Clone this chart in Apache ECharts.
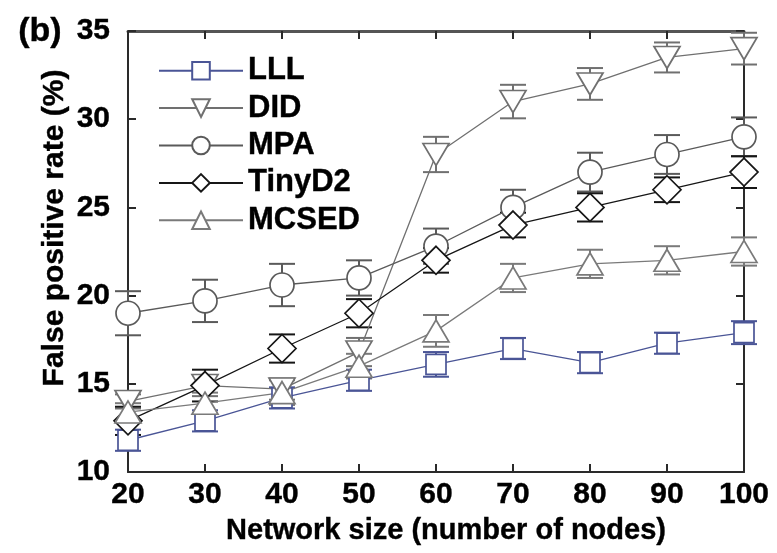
<!DOCTYPE html>
<html>
<head>
<meta charset="utf-8">
<script src="https://cdn.jsdelivr.net/npm/echarts@6/dist/echarts.min.js"></script>
<style>
html,body{margin:0;padding:0;background:#fff;}
#chart{width:777px;height:553px;}
</style>
</head>
<body>
<div id="chart"></div>
<script>
var networkSizes = [20, 30, 40, 50, 60, 70, 80, 90, 100];
var xTicks = [20, 30, 40, 50, 60, 70, 80, 90, 100];
var yTicks = [10, 15, 20, 25, 30, 35];

var lllValues    = [11.8, 12.9, 14.2, 15.2, 16.1, 17.0, 16.2, 17.3, 17.9];
var lllErr       = [0.6, 0.6, 0.6, 0.6, 0.7, 0.6, 0.6, 0.6, 0.65];
var didValues    = [14.0, 14.9, 14.7, 16.8, 28.0, 31.0, 32.0, 33.5, 34.0];
var didErr       = [0.4, 0.6, 0.6, 0.8, 1.0, 0.95, 0.9, 0.85, 0.9];
var mpaValues    = [19.0, 19.7, 20.6, 21.0, 22.8, 25.0, 27.0, 28.0, 29.0];
var mpaErr       = [1.25, 1.2, 1.2, 1.0, 1.0, 1.0, 1.1, 1.1, 1.1];
var tinyValues   = [12.9, 14.9, 17.0, 19.0, 22.0, 24.0, 25.0, 26.0, 27.0];
var tinyErr      = [0.8, 0.9, 0.8, 0.8, 0.7, 0.7, 0.8, 0.7, 0.9];
var mcsedValues  = [13.4, 13.9, 14.5, 16.0, 18.0, 21.0, 21.8, 22.0, 22.5];
var mcsedErr     = [0.5, 0.6, 0.7, 0.7, 0.9, 0.8, 0.8, 0.8, 0.8];

var FONT = '"Liberation Sans", Arial, Helvetica, sans-serif';

var seriesDefs = [
  {name: 'LLL', vals: lllValues, err: lllErr, color: '#4a5596', symbol: 'rect', size: 20, rotate: 0},
  {name: 'DID', vals: didValues, err: didErr, color: '#707070', symbol: 'triangle', size: [26, 22], rotate: 180},
  {name: 'MPA', vals: mpaValues, err: mpaErr, color: '#5a5a5a', symbol: 'circle', size: 24, rotate: 0},
  {name: 'TinyD2', vals: tinyValues, err: tinyErr, color: '#161616', symbol: 'diamond', size: [28, 28], rotate: 0},
  {name: 'MCSED', vals: mcsedValues, err: mcsedErr, color: '#7a7a7a', symbol: 'triangle', size: [26, 22], rotate: 0}
];

var series = [];
seriesDefs.forEach(function (d) {
  var errData = networkSizes.map(function (x, i) { return [x, d.vals[i] - d.err[i], d.vals[i] + d.err[i]]; });
  series.push({
    name: d.name + ' err',
    type: 'custom',
    xAxisIndex: 0, yAxisIndex: 0,
    data: errData,
    z: 2,
    silent: true,
    renderItem: function (params, api) {
      var x = api.value(0);
      var lo = api.coord([x, api.value(1)]);
      var hi = api.coord([x, api.value(2)]);
      var hw = 13;
      var st = {stroke: d.color, lineWidth: 2, fill: null};
      return {
        type: 'group',
        children: [
          {type: 'line', shape: {x1: lo[0], y1: lo[1], x2: hi[0], y2: hi[1]}, style: st},
          {type: 'line', shape: {x1: lo[0] - hw, y1: lo[1], x2: lo[0] + hw, y2: lo[1]}, style: st},
          {type: 'line', shape: {x1: hi[0] - hw, y1: hi[1], x2: hi[0] + hw, y2: hi[1]}, style: st}
        ]
      };
    }
  });
});
seriesDefs.forEach(function (d) {
  series.push({
    name: d.name,
    type: 'line',
    xAxisIndex: 0, yAxisIndex: 0,
    data: networkSizes.map(function (x, i) { return [x, d.vals[i]]; }),
    symbol: d.symbol,
    symbolSize: d.size,
    symbolRotate: d.rotate,
    showAllSymbol: true,
    z: 3,
    lineStyle: {color: d.color, width: 1.3},
    itemStyle: {color: '#fff', borderColor: d.color, borderWidth: 1.7},
    emphasis: {disabled: true},
    animation: false
  });
});

var chart = echarts.init(document.getElementById('chart'), null, {renderer: 'canvas'});
var axisLine = {show: true, lineStyle: {color: '#2a2a2a', width: 2}};
var boldText = {fontFamily: FONT, fontWeight: 'bold', color: '#000', textBorderColor: '#000', textBorderWidth: 0.4};
chart.setOption({
  animation: false,
  backgroundColor: '#fff',
  grid: {left: 128, right: 33, top: 31, bottom: 81, containLabel: false},
  legend: {
    data: seriesDefs.map(function (d) { return d.name; }),
    orient: 'vertical',
    left: 158, top: 55, padding: 0,
    itemWidth: 84, itemHeight: 22, itemGap: 6,
    textStyle: Object.assign({fontSize: 31, lineHeight: 30}, boldText),
    selectedMode: false
  },
  xAxis: [
    {type: 'value', position: 'bottom', min: xTicks[0], max: xTicks[xTicks.length - 1], interval: 10,
     axisLine: axisLine, splitLine: {show: false},
     axisTick: {show: true, inside: true, length: 8, lineStyle: {color: '#2a2a2a', width: 2}},
     axisLabel: Object.assign({fontSize: 30, margin: 8}, boldText)},
    {type: 'value', position: 'top', min: xTicks[0], max: xTicks[xTicks.length - 1], interval: 10,
     axisLine: {show: true, lineStyle: {color: '#555', width: 3}}, splitLine: {show: false},
     axisTick: {show: true, inside: true, length: 8, lineStyle: {color: '#2a2a2a', width: 2}},
     axisLabel: {show: false}}
  ],
  yAxis: [
    {type: 'value', position: 'left', min: yTicks[0], max: yTicks[yTicks.length - 1], interval: 5,
     axisLine: axisLine, splitLine: {show: false},
     axisTick: {show: true, inside: true, length: 8, lineStyle: {color: '#2a2a2a', width: 2}},
     axisLabel: Object.assign({fontSize: 30, margin: 18}, boldText)},
    {type: 'value', position: 'right', min: yTicks[0], max: yTicks[yTicks.length - 1], interval: 5,
     axisLine: axisLine, splitLine: {show: false},
     axisTick: {show: true, inside: true, length: 8, lineStyle: {color: '#2a2a2a', width: 2}},
     axisLabel: {show: false}}
  ],
  graphic: [
    {type: 'text', left: 18, top: 14, style: {text: '(b)', font: 'bold 34px ' + FONT, fill: '#000', stroke: '#000', lineWidth: 0.4}},
    {type: 'text', x: 55, y: 228, rotation: Math.PI / 2,
     style: {text: 'False positive rate (%)', font: 'bold 30px ' + FONT, fill: '#000', stroke: '#000', lineWidth: 0.4, align: 'center', verticalAlign: 'middle'}},
    {type: 'text', x: 446, y: 531,
     style: {text: 'Network size (number of nodes)', font: 'bold 29px ' + FONT, fill: '#000', stroke: '#000', lineWidth: 0.4, align: 'center', verticalAlign: 'middle'}}
  ],
  series: series
});
</script>
</body>
</html>
